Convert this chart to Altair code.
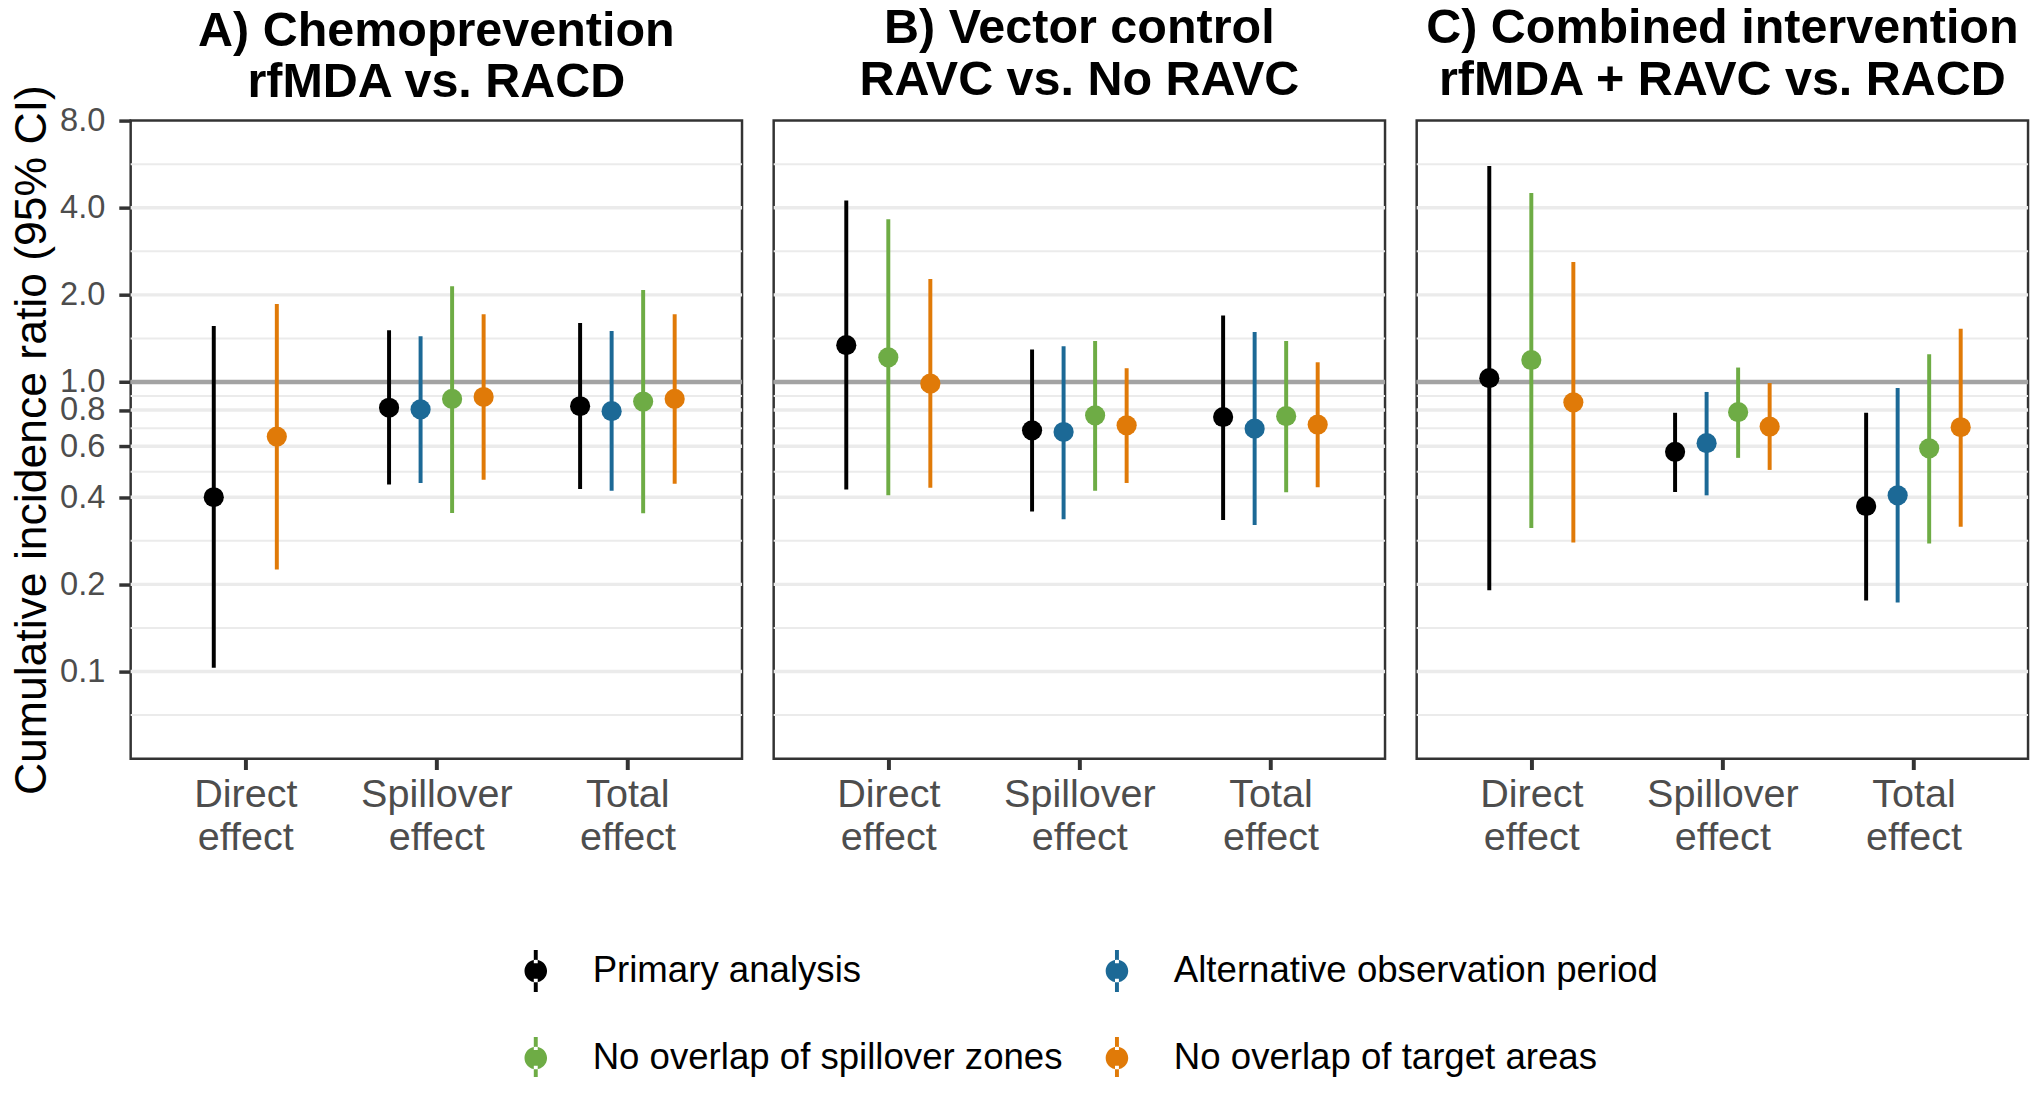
import json
import altair as alt
import pandas as pd

# ---------------- data ----------------
series = ["Primary analysis", "Alternative observation period",
          "No overlap of spillover zones", "No overlap of target areas"]
colors = ["#000000", "#1c6996", "#6eac45", "#e07a08"]
effects = ["Direct effect", "Spillover effect", "Total effect"]
panel_titles = [["A) Chemoprevention", "rfMDA vs. RACD"],
                ["B) Vector control", "RAVC vs. No RAVC"],
                ["C) Combined intervention", "rfMDA + RAVC vs. RACD"]]
y_ticks = [0.1, 0.2, 0.4, 0.6, 0.8, 1.0, 2.0, 4.0, 8.0]
y_domain = [0.05, 8.0]
y_title = "Cumulative incidence ratio (95% CI)"

P, A, S, T = series
D, SP, TO = effects

# Panel A
a_effect = [D, D, SP, SP, SP, SP, TO, TO, TO, TO]
a_series = [P, T, P, A, S, T, P, A, S, T]
a_est = [0.40, 0.648, 0.815, 0.804, 0.874, 0.888, 0.825, 0.793, 0.856, 0.874]
a_lo = [0.103, 0.225, 0.443, 0.448, 0.353, 0.460, 0.427, 0.421, 0.352, 0.445]
a_hi = [1.56, 1.86, 1.51, 1.44, 2.14, 1.715, 1.60, 1.50, 2.08, 1.715]

# Panel B
b_effect = [D, D, D, SP, SP, SP, SP, TO, TO, TO, TO]
b_series = [P, S, T, P, A, S, T, P, A, S, T]
b_est = [1.341, 1.217, 0.987, 0.681, 0.672, 0.767, 0.709, 0.757, 0.690, 0.762, 0.713]
b_lo = [0.425, 0.406, 0.431, 0.357, 0.336, 0.421, 0.448, 0.334, 0.321, 0.416, 0.433]
b_hi = [4.24, 3.65, 2.27, 1.296, 1.33, 1.387, 1.116, 1.698, 1.489, 1.387, 1.170]

# Panel C
c_effect = [D, D, D, SP, SP, SP, SP, TO, TO, TO, TO]
c_series = [P, S, T, P, A, S, T, P, A, S, T]
c_est = [1.031, 1.191, 0.851, 0.574, 0.615, 0.787, 0.702, 0.373, 0.406, 0.590, 0.698]
c_lo = [0.191, 0.313, 0.279, 0.417, 0.406, 0.547, 0.497, 0.176, 0.173, 0.277, 0.316]
c_hi = [5.57, 4.50, 2.60, 0.783, 0.924, 1.122, 0.992, 0.783, 0.954, 1.246, 1.529]

panels = [
    (a_effect, a_series, a_est, a_lo, a_hi),
    (b_effect, b_series, b_est, b_lo, b_hi),
    (c_effect, c_series, c_est, c_lo, c_hi),
]

# ---------------- styling ----------------
FONT = "Liberation Sans"
PW, PH = 618, 645
DODGE = 0.66
TITLE_OFFSETS = [-72, -33, -33]

minor_breaks = [(lo * hi) ** 0.5 for lo, hi in zip([y_domain[0]] + y_ticks[:-1], y_ticks)]
major_breaks = [t for t in y_ticks if y_domain[0] < t < y_domain[1]]
minor_df = pd.DataFrame({"v": minor_breaks})
major_df = pd.DataFrame({"v": major_breaks})
ref_df = pd.DataFrame({"v": [1.0]})

label_parts = [e.rsplit(" ", 1) for e in effects]
label_expr = " : ".join(
    f"datum.value == {i} ? {json.dumps(p)}" for i, p in enumerate(label_parts[:-1])
) + f" : {json.dumps(label_parts[-1])}"

yscale = alt.Scale(type="log", domain=y_domain, nice=False)
xscale = alt.Scale(domain=[-0.6, len(effects) - 0.4], nice=False, zero=False)
cscale = alt.Scale(domain=series, range=colors)

legend_symbol = ("M-0.43,0A0.43,0.43,0,1,0,0.43,0A0.43,0.43,0,1,0,-0.43,0Z"
                 "M-0.075,-0.8H0.075V-0.3H-0.075Z"
                 "M-0.075,0.3H0.075V0.8H-0.075Z")

legend = alt.Legend(
    title=None, orient="none", legendX=383, legendY=833, padding=0,
    direction="horizontal", columns=2,
    symbolType=legend_symbol, symbolSize=2809, symbolStrokeWidth=0,
    symbolOpacity=1,
    labelFontSize=37, labelFont=FONT, labelColor="black", labelLimit=800,
    labelOffset=31, columnPadding=27.5, rowPadding=40,
)


def yaxis(first):
    common = dict(values=y_ticks, grid=False, domain=False, labelOverlap=False)
    if first:
        return alt.Axis(format=".1f", title=y_title, titleFontSize=45,
                        titleFont=FONT, titleFontWeight="normal", titleColor="black",
                        titlePadding=5, labelFontSize=33, labelFont=FONT,
                        labelColor="#4d4d4d", labelPadding=14, tickSize=12,
                        tickWidth=3.5, tickColor="#333333", **common)
    return alt.Axis(labels=False, ticks=False, title=None, **common)


xaxis = alt.Axis(values=list(range(len(effects))), labelExpr=label_expr, title=None,
                 grid=False, domain=False, tickSize=11, tickWidth=4,
                 tickColor="#333333", labelFontSize=40, labelFont=FONT,
                 labelColor="#4d4d4d", labelLineHeight=44, labelPadding=5,
                 labelFlush=False, labelOverlap=False)


def make_panel(i):
    eff, ser, est, lo, hi = panels[i]
    df = pd.DataFrame({"effect": eff, "series": ser, "est": est, "lo": lo, "hi": hi})
    ya = yaxis(i == 0)
    base = (
        alt.Chart(df)
        .transform_calculate(
            effIdx=f"indexof({json.dumps(effects)}, datum.effect)",
            serIdx=f"indexof({json.dumps(series)}, datum.series)",
        )
        .transform_joinaggregate(n="count()", groupby=["effect"])
        .transform_window(rank="row_number()", sort=[alt.SortField("serIdx")],
                          groupby=["effect"])
        .transform_calculate(
            xpos=f"datum.effIdx + (datum.rank - (datum.n + 1) / 2) * {DODGE} / datum.n"
        )
    )
    minor = alt.Chart(minor_df).mark_rule(color="#ebebeb", strokeWidth=2).encode(
        y=alt.Y("v:Q", scale=yscale, axis=ya))
    major = alt.Chart(major_df).mark_rule(color="#ebebeb", strokeWidth=3.5).encode(
        y=alt.Y("v:Q", scale=yscale, axis=ya))
    ref = alt.Chart(ref_df).mark_rule(color="#a3a3a3", strokeWidth=4.5).encode(
        y=alt.Y("v:Q", scale=yscale, axis=ya))
    bars = base.mark_rule(strokeWidth=4).encode(
        x=alt.X("xpos:Q", scale=xscale, axis=xaxis),
        y=alt.Y("lo:Q", scale=yscale, axis=ya),
        y2="hi:Q",
        color=alt.Color("series:N", scale=cscale, legend=legend),
    )
    pts = base.mark_circle(size=415, opacity=1).encode(
        x=alt.X("xpos:Q", scale=xscale, axis=xaxis),
        y=alt.Y("est:Q", scale=yscale, axis=ya),
        color=alt.Color("series:N", scale=cscale, legend=legend),
    )
    return alt.layer(minor, major, ref, bars, pts).properties(
        width=PW, height=PH,
        view=alt.ViewBackground(stroke="#333333", strokeWidth=2.5),
        title=alt.TitleParams(text=panel_titles[i], fontSize=49, font=FONT,
                              fontWeight="bold", color="black", anchor="middle",
                              lineHeight=52, baseline="bottom",
                              offset=TITLE_OFFSETS[i]),
    )


chart = (
    alt.hconcat(*[make_panel(i) for i in range(3)], spacing=24)
    .properties(padding={"top": -11, "left": 0, "right": 0, "bottom": -8})
    .configure_view(stroke="#333333", strokeWidth=2.5)
    .configure(font=FONT)
)

chart.save("out.html", embed_options={"renderer": "svg", "actions": False})
